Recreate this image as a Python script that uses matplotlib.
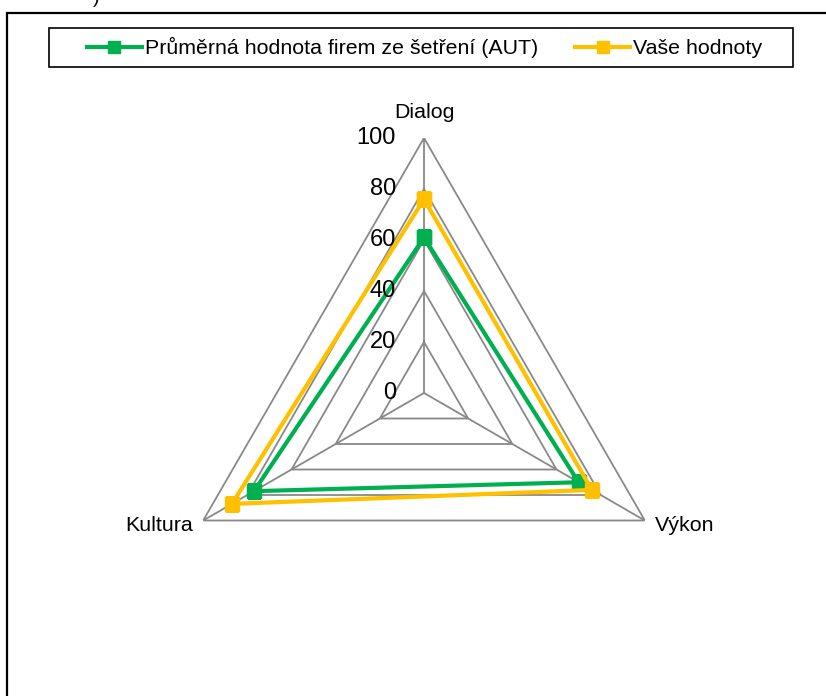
import numpy as np
import matplotlib
matplotlib.use("Agg")
import matplotlib.pyplot as plt
from matplotlib.lines import Line2D
from matplotlib.patches import Rectangle
from matplotlib.transforms import offset_copy

plt.rcParams['font.family'] = ['Liberation Sans', 'DejaVu Sans']

# data
categories = ["Dialog", "Výkon", "Kultura"]
avg_values = [61, 70, 77]      # Průměrná hodnota firem ze šetření (AUT)
your_values = [76, 76, 87]     # Vaše hodnoty
radial_ticks = [0, 20, 40, 60, 80, 100]
series_labels = ["Průměrná hodnota firem ze šetření (AUT)", "Vaše hodnoty"]

GREEN = "#00B050"
YELLOW = "#FFC000"
GRID = "#898989"

W, H = 826, 696
fig = plt.figure(figsize=(W / 100, H / 100), dpi=100)

# polar axes placed so that the centre is at (424, 393) px and radius 255 px
cx, cy, R = 424, 393, 255
ax = fig.add_axes([(cx - R) / W, (H - cy - R) / H, 2 * R / W, 2 * R / H],
                  projection="polar")
ax.set_theta_offset(np.pi / 2)
ax.set_theta_direction(-1)
ax.set_ylim(0, 100)
ax.axis("off")

n = len(categories)
angles = [2 * np.pi * i / n for i in range(n)]
closed = angles + angles[:1]

# polygon gridlines and spokes
for r in radial_ticks[1:]:
    ax.plot(closed, [r] * (n + 1), color=GRID, lw=1.3, zorder=1)
for a in angles:
    ax.plot([a, a], [0, 100], color=GRID, lw=1.3, zorder=1)

ax.plot(closed, avg_values + avg_values[:1], color=GREEN, lw=3,
        marker="s", markersize=10, zorder=3)
ax.plot(closed, your_values + your_values[:1], color=YELLOW, lw=3,
        marker="s", markersize=10, zorder=4)

# radial tick labels, left of the top spoke
tr = offset_copy(ax.transData, fig=fig, x=-28, y=0, units="dots")
for r in radial_ticks:
    ax.text(0, r, str(r), transform=tr, ha="right", va="center",
            fontsize=17, color="black")

# category labels
offsets = [(0, 26, "center", "center"), (10, -5, "left", "center"),
           (-10, -5, "right", "center")]
for a, name, (dx, dy, ha, va) in zip(angles, categories, offsets):
    t = offset_copy(ax.transData, fig=fig, x=dx, y=dy, units="dots")
    ax.text(a, 100, name, transform=t, ha=ha, va=va, fontsize=15.4)

# legend (box drawn separately so its padding matches the reference)
handles = [
    Line2D([], [], color=GREEN, lw=3, marker="s", markersize=8.5),
    Line2D([], [], color=YELLOW, lw=3, marker="s", markersize=8.5),
]
leg = fig.legend(handles, series_labels, loc="center left", ncol=2,
                 bbox_to_anchor=(87 / W, 1 - 47.5 / H), fontsize=15.4,
                 frameon=False, borderpad=0, borderaxespad=0,
                 handlelength=2.57, handletextpad=0.12, columnspacing=1.75)
fig.patches.append(Rectangle((49 / W, 1 - 67 / H), (793 - 49) / W, 39 / H,
                             transform=fig.transFigure, fill=False,
                             ec="black", lw=1.2))

# outer chart-area border (cut off at the right and bottom)
fig.patches.append(Rectangle((7 / W, -0.05), 1.2, 1.05 - 13 / H,
                             transform=fig.transFigure, fill=False,
                             ec="black", lw=1.6))
# fragment of text above the chart
fig.text(96 / W, 1 + 2 / H, ")", ha="center", va="center", fontsize=14)

fig.savefig("out.png", dpi=100)
